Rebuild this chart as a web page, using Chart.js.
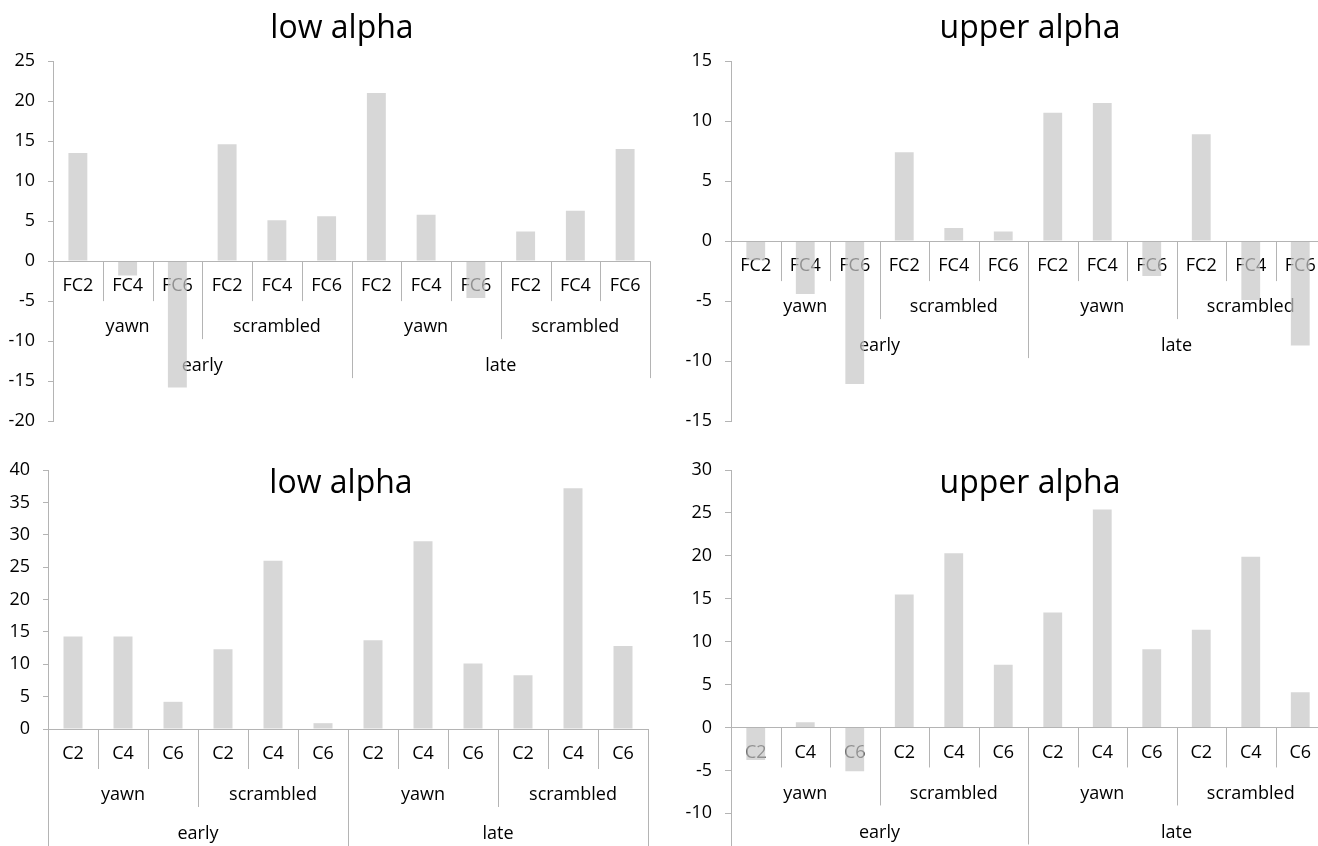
<!DOCTYPE html>
<html><head><meta charset="utf-8">
<script src="https://cdn.jsdelivr.net/npm/chart.js@4.4.1/dist/chart.umd.min.js"></script>
<style>
html,body{margin:0;padding:0;background:#fff;overflow:hidden;width:1318px;height:846px;position:relative;}
canvas{position:absolute;}
</style></head><body>
<canvas id="c1" width="670" height="445" style="left:0px;top:0px"></canvas>
<canvas id="c2" width="680" height="445" style="left:660px;top:0px"></canvas>
<canvas id="c3" width="670" height="440" style="left:0px;top:430px"></canvas>
<canvas id="c4" width="680" height="450" style="left:660px;top:430px"></canvas>
<script>
// ---- data ----
const electrodesFC = ['FC2','FC4','FC6','FC2','FC4','FC6','FC2','FC4','FC6','FC2','FC4','FC6'];
const electrodesC  = ['C2','C4','C6','C2','C4','C6','C2','C4','C6','C2','C4','C6'];
const conditions = ['yawn','scrambled','yawn','scrambled'];
const phases = ['early','late'];
const lowAlphaFC   = [13.5, -1.8, -15.8, 14.6, 5.1, 5.6, 21.0, 5.8, -4.6, 3.7, 6.3, 14.0];
const upperAlphaFC = [-1.6, -4.4, -11.9, 7.4, 1.1, 0.8, 10.7, 11.5, -2.9, 8.9, -4.9, -8.7];
const lowAlphaC    = [14.3, 14.3, 4.2, 12.3, 26.0, 0.9, 13.7, 29.0, 10.1, 8.3, 37.2, 12.8];
const upperAlphaC  = [-3.8, 0.6, -5.1, 15.5, 20.3, 7.3, 13.4, 25.4, 9.1, 11.4, 19.9, 4.1];
const ticksLowFC   = [-20, -15, -10, -5, 0, 5, 10, 15, 20, 25];
const ticksUpperFC = [-15, -10, -5, 0, 5, 10, 15];
const ticksLowC    = [0, 5, 10, 15, 20, 25, 30, 35, 40];
const ticksUpperC  = [-15, -10, -5, 0, 5, 10, 15, 20, 25, 30];
const titles = ['low alpha', 'upper alpha', 'low alpha', 'upper alpha'];

const FONT = '"Open Sans", "Noto Sans", sans-serif';
const LINE = '#b4b4b4';

function makeChart(id, cfg) {
  const canvas = document.getElementById(id);
  const W = canvas.width, H = canvas.height;
  const pad = {
    left: 0,
    top: cfg.area.top - cfg.top,
    right: W - (cfg.area.right - cfg.left),
    bottom: H - (cfg.area.bottom - cfg.top)
  };
  const axisW = cfg.area.left - cfg.left;
  const labelsPlugin = {
    id: 'multiLevel',
    beforeDatasetsDraw(chart) {
      const ctx = chart.ctx, a = chart.chartArea;
      const xs = chart.scales.x, ys = chart.scales.y;
      const y0 = ys.getPixelForValue(0);
      const n = cfg.level1.length;
      const cw = (a.right - a.left) / n;
      ctx.save();
      ctx.strokeStyle = LINE; ctx.lineWidth = 1;
      for (let i = 0; i <= n; i++) {
        const x = Math.round(a.left + i * cw) + 0.5;
        let yBot;
        if (i % 6 === 0) yBot = y0 + 117;
        else if (i % 3 === 0) yBot = y0 + 78;
        else yBot = y0 + 40;
        ctx.beginPath(); ctx.moveTo(x, y0); ctx.lineTo(x, yBot); ctx.stroke();
      }
      ctx.fillStyle = '#000';
      ctx.textAlign = 'center'; ctx.textBaseline = 'middle';
      ctx.font = '18px ' + FONT;
      cfg.level1.forEach((t, i) => ctx.fillText(t, xs.getPixelForValue(i), y0 + 25));
      conditions.forEach((t, j) => ctx.fillText(t, a.left + (j * 3 + 1.5) * cw, y0 + 66));
      phases.forEach((t, j) => ctx.fillText(t, a.left + (j * 6 + 3) * cw, y0 + 105));
      ctx.restore();
    },
    afterDatasetsDraw(chart) {
      const ctx = chart.ctx, a = chart.chartArea;
      const y0 = Math.round(chart.scales.y.getPixelForValue(0)) + 0.5;
      ctx.save();
      ctx.strokeStyle = LINE; ctx.lineWidth = 1;
      ctx.beginPath(); ctx.moveTo(a.left, y0); ctx.lineTo(a.right, y0); ctx.stroke();
      ctx.fillStyle = '#000';
      ctx.textAlign = 'center'; ctx.textBaseline = 'alphabetic';
      ctx.font = '32px ' + FONT;
      ctx.fillText(cfg.title, cfg.titleX - cfg.left, cfg.titleBase - cfg.top);
      ctx.restore();
    }
  };
  return new Chart(canvas, {
    type: 'bar',
    data: {
      labels: cfg.level1,
      datasets: [{
        data: cfg.values,
        backgroundColor: 'rgba(200,200,200,0.72)',
        borderWidth: 0,
        barPercentage: 0.38,
        categoryPercentage: 1
      }]
    },
    options: {
      responsive: false,
      animation: false,
      layout: { padding: pad },
      plugins: { legend: { display: false }, tooltip: { enabled: false }, title: { display: false } },
      scales: {
        x: { display: false, offset: true },
        y: {
          min: cfg.ticks[0],
          max: cfg.ticks[cfg.ticks.length - 1],
          afterBuildTicks: s => { s.ticks = cfg.ticks.map(v => ({ value: v })); },
          afterFit: s => { s.width = axisW; },
          grid: { display: true, drawOnChartArea: false, drawTicks: true, tickLength: cfg.tickLen, color: LINE, lineWidth: 1 },
          border: { display: true, color: LINE, width: 1 },
          ticks: { font: { family: FONT, size: 18 }, color: '#000', padding: cfg.tickPad, callback: v => String(v) }
        }
      }
    },
    plugins: [labelsPlugin]
  });
}

function build() {
  makeChart('c1', { left: 0, top: 0, area: { left: 53, top: 61, right: 650, bottom: 425 },
    level1: electrodesFC, values: lowAlphaFC, ticks: ticksLowFC, title: titles[0],
    titleX: 342, titleBase: 38, tickLen: 5, tickPad: 13 });
  makeChart('c2', { left: 660, top: 0, area: { left: 731, top: 61, right: 1325, bottom: 425 },
    level1: electrodesFC, values: upperAlphaFC, ticks: ticksUpperFC, title: titles[1],
    titleX: 1030, titleBase: 38, tickLen: 6, tickPad: 13 });
  makeChart('c3', { left: 0, top: 430, area: { left: 48, top: 470, right: 648, bottom: 729 },
    level1: electrodesC, values: lowAlphaC, ticks: ticksLowC, title: titles[2],
    titleX: 341, titleBase: 493, tickLen: 5, tickPad: 13 });
  makeChart('c4', { left: 660, top: 430, area: { left: 731, top: 470, right: 1325, bottom: 863 },
    level1: electrodesC, values: upperAlphaC, ticks: ticksUpperC, title: titles[3],
    titleX: 1030, titleBase: 493, tickLen: 6, tickPad: 13 });
}
if (document.fonts && document.fonts.load) {
  Promise.all([document.fonts.load('18px "Open Sans"'), document.fonts.load('32px "Open Sans"')]).then(build, build);
} else build();
</script>
</body></html>
